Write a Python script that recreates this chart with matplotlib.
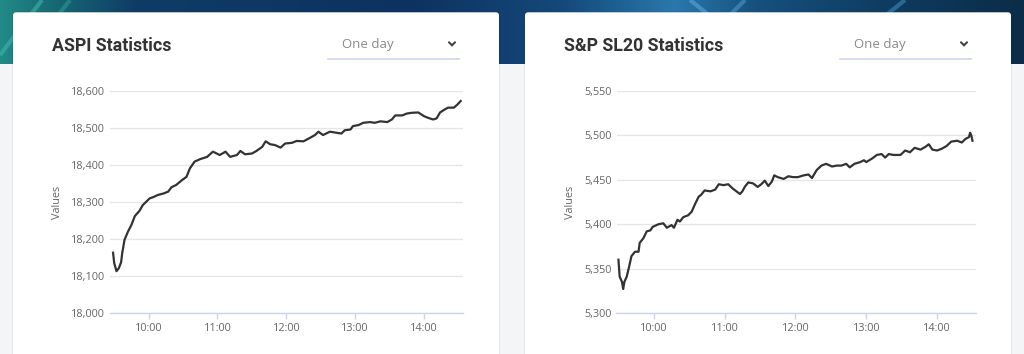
import matplotlib
matplotlib.use("Agg")
import matplotlib.pyplot as plt
import matplotlib.dates as mdates
import numpy as np
import pandas as pd
from matplotlib.colors import LinearSegmentedColormap
from matplotlib.patches import Rectangle, FancyBboxPatch
from matplotlib.ticker import FuncFormatter

# ---- data ----
aspi_times = [
    "09:29", "09:30", "09:32", "09:34", "09:36", "09:37", "09:39", "09:42", "09:45", "09:48",
    "09:52", "09:55", "09:58", "10:01", "10:04", "10:08", "10:13", "10:17", "10:20", "10:24",
    "10:29", "10:33", "10:36", "10:40", "10:45", "10:51", "10:56", "11:02", "11:07", "11:11",
    "11:17", "11:20", "11:24", "11:30", "11:34", "11:39", "11:42", "11:46", "11:50", "11:55",
    "11:59", "12:05", "12:09", "12:15", "12:21", "12:25", "12:28", "12:32", "12:38", "12:44",
    "12:48", "12:51", "12:56", "12:58", "13:03", "13:07", "13:13", "13:17", "13:22", "13:28",
    "13:32", "13:35", "13:41", "13:45", "13:49", "13:55", "14:00", "14:04", "14:08", "14:11",
    "14:14", "14:18", "14:21", "14:26", "14:29", "14:32",
]
aspi_values = [
    18163, 18135, 18113, 18121, 18137, 18162, 18198, 18220, 18238, 18262,
    18276, 18292, 18301, 18310, 18313, 18319, 18323, 18328, 18340, 18346,
    18359, 18368, 18391, 18409, 18416, 18422, 18436, 18427, 18436, 18422,
    18427, 18438, 18429, 18431, 18438, 18449, 18464, 18456, 18454, 18447,
    18458, 18460, 18465, 18464, 18474, 18481, 18490, 18481, 18490, 18487,
    18485, 18494, 18496, 18505, 18508, 18514, 18516, 18514, 18518, 18516,
    18523, 18534, 18534, 18539, 18541, 18542, 18532, 18527, 18523, 18526,
    18542, 18550, 18555, 18555, 18563, 18573,
]

sl20_times = [
    "09:30", "09:31", "09:33", "09:34", "09:35", "09:37", "09:39", "09:41", "09:44", "09:47",
    "09:48", "09:51", "09:54", "09:57", "09:59", "10:04", "10:08", "10:11", "10:15", "10:17",
    "10:20", "10:22", "10:25", "10:29", "10:32", "10:35", "10:38", "10:40", "10:43", "10:48",
    "10:52", "10:55", "10:59", "11:03", "11:07", "11:10", "11:13", "11:15", "11:17", "11:20",
    "11:24", "11:28", "11:31", "11:34", "11:37", "11:40", "11:42", "11:45", "11:50", "11:54",
    "11:58", "12:02", "12:07", "12:11", "12:14", "12:18", "12:22", "12:26", "12:31", "12:35",
    "12:39", "12:43", "12:46", "12:50", "12:55", "12:58", "13:00", "13:05", "13:09", "13:13",
    "13:16", "13:19", "13:23", "13:29", "13:33", "13:37", "13:41", "13:46", "13:50", "13:53",
    "13:56", "14:00", "14:04", "14:08", "14:12", "14:17", "14:21", "14:24", "14:27", "14:28",
    "14:29", "14:30",
]
sl20_values = [
    5360, 5341, 5335, 5327, 5335, 5341, 5352, 5364, 5369, 5369,
    5379, 5384, 5392, 5393, 5397, 5400, 5401, 5396, 5399, 5396,
    5405, 5403, 5408, 5410, 5414, 5423, 5431, 5433, 5438, 5437,
    5439, 5445, 5444, 5445, 5440, 5437, 5434, 5437, 5442, 5447,
    5446, 5442, 5445, 5449, 5443, 5448, 5455, 5453, 5451, 5454,
    5453, 5453, 5455, 5456, 5452, 5461, 5466, 5468, 5465, 5466,
    5466, 5468, 5464, 5468, 5470, 5472, 5470, 5474, 5478, 5479,
    5475, 5479, 5478, 5478, 5483, 5481, 5486, 5484, 5487, 5490,
    5484, 5483, 5485, 5488, 5493, 5494, 5492, 5496, 5498, 5503,
    5500, 5494,
]

charts = [
    {"title": "ASPI Statistics", "times": aspi_times, "values": aspi_values,
     "ylim": (18000, 18600), "yticks": [18000, 18100, 18200, 18300, 18400, 18500, 18600],
     "xlim": ("09:26:20", "14:34:00"), "card_x": 13, "ax_x": 110, "ax_w": 353},
    {"title": "S&P SL20 Statistics", "times": sl20_times, "values": sl20_values,
     "ylim": (5300, 5550), "yticks": [5300, 5350, 5400, 5450, 5500, 5550],
     "xlim": ("09:28:20", "14:33:00"), "card_x": 525, "ax_x": 616.5, "ax_w": 359.5},
]
hour_ticks = ["10:00", "11:00", "12:00", "13:00", "14:00"]

W, H = 1024, 354
DAY = "2024-01-01 "


def to_dt(ts):
    return pd.to_datetime([DAY + t for t in ts])


fig = plt.figure(figsize=(W / 100, H / 100), dpi=100)

# ---- page background in pixel coordinates ----
bg = fig.add_axes([0, 0, 1, 1])
bg.set_xlim(0, W)
bg.set_ylim(H, 0)
bg.axis("off")

bg.add_patch(Rectangle((0, 0), W, H, facecolor="#f4f5f7", edgecolor="none"))
banner_cmap = LinearSegmentedColormap.from_list("banner", [
    (0.00, "#218a86"), (0.05, "#176a74"), (0.13, "#0f3c66"), (0.40, "#0d3260"),
    (0.55, "#14497a"), (0.66, "#2a78ac"), (0.74, "#16507e"), (0.88, "#0e3a5e"),
    (1.00, "#0b2d48"),
])
grad = np.linspace(0, 1, 512).reshape(1, -1)
bg.imshow(grad, cmap=banner_cmap, extent=(0, W, 64, 0), aspect="auto", zorder=1)
# a few light streaks in the banner
for (x0, y0, x1, y1, c) in [(0, 55, 42, 0, "#3fb3a5"), (20, 64, 70, 0, "#2a9a90"),
                            (690, 0, 715, 20, "#5aa6d8"), (745, 0, 725, 20, "#4a96c8"),
                            (880, 20, 905, 0, "#3f88bb")]:
    bg.plot([x0, x1], [y0, y1], color=c, lw=3, alpha=0.6, zorder=2, solid_capstyle="butt")

for ch in charts:
    cx = ch["card_x"]
    bg.add_patch(FancyBboxPatch((cx - 1, 11.5), 488, 360, boxstyle="round,pad=0,rounding_size=3",
                                facecolor="#000000", alpha=0.05, edgecolor="none", zorder=3))
    bg.add_patch(FancyBboxPatch((cx, 12.3), 486, 360, boxstyle="round,pad=0,rounding_size=3",
                                facecolor="white", edgecolor="none", zorder=4))
    bg.text(cx + 39, 46, ch["title"], fontsize=12.8, fontweight="bold", family="Roboto",
            color="#333333", va="center", ha="left", zorder=5)
    # "One day" dropdown
    bg.text(cx + 329, 44.3, "One day", fontsize=9.5, family="Open Sans", color="#8a8a8a",
            va="center", ha="left", zorder=5)
    bg.plot([cx + 436, cx + 439, cx + 442], [42.3, 45.3, 42.3], color="#444444", lw=1.5, zorder=5,
            solid_capstyle="round", solid_joinstyle="miter")
    bg.plot([cx + 315, cx + 446], [58.5, 58.5], color="#cdd6f0", lw=1.2, zorder=5)

# ---- the two line charts ----
ax_top, ax_bottom = 91, 313
for ch in charts:
    ax = fig.add_axes([ch["ax_x"] / W, 1 - ax_bottom / H, ch["ax_w"] / W, (ax_bottom - ax_top) / H])
    ax.set_facecolor("none")
    x = to_dt(ch["times"])
    ax.plot(x, ch["values"], color="#333333", lw=1.6, solid_joinstyle="round", zorder=3)

    ax.set_ylim(*ch["ylim"])
    ax.set_yticks(ch["yticks"])
    ax.yaxis.set_major_formatter(FuncFormatter(lambda v, p: f"{v:,.0f}"))
    ax.set_xlim(pd.Timestamp(DAY + ch["xlim"][0]), pd.Timestamp(DAY + ch["xlim"][1]))
    ax.set_xticks(to_dt(hour_ticks))
    ax.xaxis.set_major_formatter(mdates.DateFormatter("%H:%M"))

    ax.grid(axis="y", color="#e6e6e6", lw=1)
    ax.set_axisbelow(True)
    for s in ["top", "right", "left"]:
        ax.spines[s].set_visible(False)
    ax.spines["bottom"].set_color("#ccd6eb")
    ax.spines["bottom"].set_linewidth(1)

    ax.tick_params(axis="y", length=0, pad=3.6, labelsize=7.8, labelcolor="#666666")
    ax.tick_params(axis="x", length=4, width=1, color="#ccd6eb", pad=3, labelsize=7.8,
                   labelcolor="#666666")
    for lab in ax.get_xticklabels() + ax.get_yticklabels():
        lab.set_family("Open Sans")

    ax.set_ylabel("Values", fontsize=7.8, color="#666666", family="Open Sans", labelpad=6)

fig.savefig("out.png", dpi=100)
